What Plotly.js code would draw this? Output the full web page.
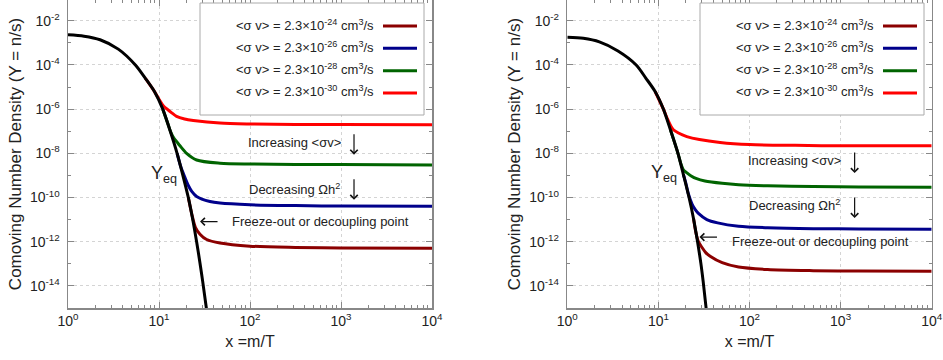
<!DOCTYPE html>
<html>
<head>
<meta charset="utf-8">
<script src="https://cdn.plot.ly/plotly-3.0.1.min.js"></script>
<style>html,body{margin:0;padding:0;background:#fff;}#chart{width:943px;height:360px;}</style>
</head>
<body>
<div id="chart"></div>
<script>
// ---------------- DATA ----------------
// Left panel: equilibrium curve Y_eq
const xEqLeft = [1, 1.5, 2.25, 3.57, 5.5, 7.08, 8.91, 11.0, 13.2, 15.8, 18.2, 21.0, 23.4, 25.9, 28.2, 30.2, 33.4];
const yEqLeft = [2.3e-3, 2.0e-3, 1.38e-3, 5.2e-4, 1.0e-4, 2.5e-5, 6.3e-6, 1.0e-6, 1.1e-7, 1.0e-8, 1.1e-9, 1.0e-10, 1.1e-11, 1.0e-12, 1.1e-13, 1.6e-14, 7.9e-16];
// Left panel: relic curves
const x24Left = [21.0, 22.9, 25.1, 28.2, 33.4, 46.8, 100, 316, 1000, 10000];
const y24Left = [1.0e-10, 1.8e-11, 4.5e-12, 2.2e-12, 1.26e-12, 8.7e-13, 6.3e-13, 5.5e-13, 5.2e-13, 5.1e-13];
const x26Left = [15.8, 17.4, 19.1, 21.0, 22.9, 25.9, 36.3, 46.8, 100, 316, 1000, 10000];
const y26Left = [1.0e-8, 2.4e-9, 8.9e-10, 3.5e-10, 1.9e-10, 1.12e-10, 6.6e-11, 5.6e-11, 4.7e-11, 4.3e-11, 4.1e-11, 4.0e-11];
const x28Left = [11.0, 12.6, 13.5, 14.5, 15.8, 17.0, 20.1, 25.9, 46.8, 100, 316, 1000, 10000];
const y28Left = [1.0e-6, 2.0e-7, 8.9e-8, 5.0e-8, 3.2e-8, 2.2e-8, 1.0e-8, 5.0e-9, 3.6e-9, 3.3e-9, 3.16e-9, 3.1e-9, 3.0e-9];
const x30Left = [7.08, 8.91, 10, 11.2, 12.2, 13.8, 15.6, 19.1, 23.8, 46.8, 100, 316, 1000, 10000];
const y30Left = [2.5e-5, 6.3e-6, 2.8e-6, 1.4e-6, 1.02e-6, 6.8e-7, 4.7e-7, 3.6e-7, 3.1e-7, 2.35e-7, 2.14e-7, 2.04e-7, 2.0e-7, 1.95e-7];

// Right panel: equilibrium curve Y_eq
const xEqRight = [1, 1.5, 2.25, 3.6, 5.7, 7.3, 9.2, 11.35, 13.6, 16.4, 18.8, 21.7, 24.3, 26.9, 29.2, 31.0, 33.6];
const yEqRight = [1.8e-3, 1.6e-3, 1.1e-3, 4.3e-4, 1.0e-4, 2.5e-5, 6.3e-6, 1.0e-6, 1.1e-7, 1.0e-8, 1.1e-9, 1.0e-10, 1.1e-11, 1.0e-12, 1.1e-13, 1.6e-14, 7.9e-16];
// Right panel: relic curves
const x24Right = [24.3, 25.7, 27.5, 30.0, 33.1, 37.0, 50.1, 75.9, 158, 501, 1585, 10000];
const y24Right = [1.12e-11, 2.8e-12, 1.0e-12, 5.6e-13, 3.2e-13, 2.2e-13, 1.12e-13, 7.1e-14, 5.5e-14, 4.9e-14, 4.7e-14, 4.6e-14];
const x26Right = [18.8, 20.0, 21.4, 23.4, 25.4, 27.5, 34.0, 44.7, 75.9, 158, 501, 1585, 10000];
const y26Right = [1.12e-9, 4.5e-10, 1.4e-10, 5.0e-11, 2.8e-11, 1.9e-11, 1.0e-11, 7.1e-12, 5.0e-12, 4.3e-12, 3.9e-12, 3.8e-12, 3.7e-12];
const x28Right = [13.6, 16.4, 17.6, 18.8, 20.4, 22.9, 26.3, 32.4, 50.1, 75.9, 158, 501, 1585, 10000];
const y28Right = [1.12e-7, 1.0e-8, 3.5e-9, 1.8e-9, 1.35e-9, 9.5e-10, 7.1e-10, 5.6e-10, 4.4e-10, 3.8e-10, 3.4e-10, 3.16e-10, 3.0e-10, 2.95e-10];
const x30Right = [9.2, 11.35, 12.6, 13.6, 14.6, 16.6, 20.5, 28.2, 47.6, 100, 316, 1000, 10000];
const y30Right = [6.3e-6, 1.0e-6, 3.5e-7, 1.8e-7, 1.17e-7, 8.3e-8, 5.75e-8, 4.2e-8, 3.1e-8, 2.5e-8, 2.3e-8, 2.2e-8, 2.2e-8];

// Labels
const seriesLabels = [
  '<σ v> = 2.3×10<sup>-24</sup> cm<sup>3</sup>/s',
  '<σ v> = 2.3×10<sup>-26</sup> cm<sup>3</sup>/s',
  '<σ v> = 2.3×10<sup>-28</sup> cm<sup>3</sup>/s',
  '<σ v> = 2.3×10<sup>-30</sup> cm<sup>3</sup>/s'
];
const xTickVals = [1, 10, 100, 1000, 10000];
const xTickText = ['10<sup>0</sup>', '10<sup>1</sup>', '10<sup>2</sup>', '10<sup>3</sup>', '10<sup>4</sup>'];
const yTickVals = [1e-14, 1e-12, 1e-10, 1e-8, 1e-6, 1e-4, 1e-2];
const yTickText = ['10<sup>-14</sup>', '10<sup>-12</sup>', '10<sup>-10</sup>', '10<sup>-8</sup>', '10<sup>-6</sup>', '10<sup>-4</sup>', '10<sup>-2</sup>'];
const yTitle = 'Comoving Number Density (Y = n/s)';
const xTitle = 'x =m/T';

// ---------------- STYLE ----------------
const colors = ['#8b0000', '#00008b', '#006400', '#ff0000'];
const FONT = 'Liberation Sans, Arial, Helvetica, sans-serif';
const W = 943, PH = 308;
const px = v => v / W;
const py = v => (PH - v) / PH;

const xMinor = [];
for (let d = 1; d < 10000; d *= 10) for (let k = 2; k <= 9; k++) xMinor.push(k * d);
const yMinor = [];
for (let e = -15; e <= -1; e += 2) yMinor.push(Math.pow(10, e));

function line(x, y, color, xa, ya) {
  return {x: x, y: y, xaxis: xa, yaxis: ya, type: 'scatter', mode: 'lines',
          line: {color: color, width: 3, shape: 'spline', smoothing: 0.8},
          hoverinfo: 'skip', showlegend: false};
}

const traces = [
  line(x30Left, y30Left, colors[3], 'x', 'y'),
  line(x28Left, y28Left, colors[2], 'x', 'y'),
  line(x26Left, y26Left, colors[1], 'x', 'y'),
  line(x24Left, y24Left, colors[0], 'x', 'y'),
  line(xEqLeft, yEqLeft, '#000000', 'x', 'y'),
  line(x30Right, y30Right, colors[3], 'x2', 'y2'),
  line(x28Right, y28Right, colors[2], 'x2', 'y2'),
  line(x26Right, y26Right, colors[1], 'x2', 'y2'),
  line(x24Right, y24Right, colors[0], 'x2', 'y2'),
  line(xEqRight, yEqRight, '#000000', 'x2', 'y2')
];

function xAxis(domain, anchor) {
  return {type: 'log', range: [0, 4], domain: domain, anchor: anchor,
    tickmode: 'array', tickvals: xTickVals, ticktext: xTickText,
    ticks: 'inside', ticklen: 6, tickwidth: 1, tickcolor: '#888',
    showline: true, linecolor: '#888', linewidth: 1.5, mirror: 'allticks',
    showgrid: true, gridcolor: '#d4d4d4', griddash: 'dot', gridwidth: 1, zeroline: false,
    tickfont: {family: FONT, size: 14, color: '#222'},
    minor: {tickmode: 'array', tickvals: xMinor, ticks: 'inside', ticklen: 3, tickcolor: '#888', showgrid: false},
    title: {text: xTitle, font: {family: FONT, size: 16, color: '#222'}, standoff: 7},
    automargin: false, fixedrange: true};
}
function yAxis(anchor) {
  return {type: 'log', range: [-15, -1.06], domain: [0, 1], anchor: anchor,
    tickmode: 'array', tickvals: yTickVals, ticktext: yTickText,
    ticks: 'inside', ticklen: 6, tickwidth: 1, tickcolor: '#888', ticklabelstandoff: 4,
    showline: true, linecolor: '#888', linewidth: 1.5, mirror: 'allticks',
    showgrid: true, gridcolor: '#d4d4d4', griddash: 'dot', gridwidth: 1, zeroline: false,
    tickfont: {family: FONT, size: 14, color: '#222'},
    minor: {tickmode: 'array', tickvals: yMinor, ticks: 'inside', ticklen: 3, tickcolor: '#888', showgrid: false},
    title: {text: yTitle, font: {family: FONT, size: 17, color: '#222'}, standoff: 4},
    automargin: false, fixedrange: true};
}

const shapes = [];
const annotations = [];
const T = {family: FONT, size: 13, color: '#222'};

function panelDecor(off) {
  shapes.push({type: 'rect', xref: 'paper', yref: 'paper', x0: px(200 + off), x1: px(424 + off), y0: py(115), y1: py(3),
               line: {color: '#aaa', width: 1}, fillcolor: 'rgba(255,255,255,1)', layer: 'above'});
  const rows = [26, 48.3, 70.7, 93];
  for (let i = 0; i < 4; i++) {
    shapes.push({type: 'line', xref: 'paper', yref: 'paper', x0: px(383 + off), x1: px(417 + off), y0: py(rows[i]), y1: py(rows[i]),
                 line: {color: colors[i], width: 3}, layer: 'above'});
    annotations.push({xref: 'paper', yref: 'paper', x: px(376 + off), y: py(rows[i] - 1.5), xanchor: 'right', yanchor: 'middle',
                      text: seriesLabels[i], showarrow: false, font: T});
  }
}
panelDecor(0);
panelDecor(500);

// in-plot labels (log coordinates)
function notes(xa, ya, p) {
  annotations.push({xref: xa, yref: ya, x: p.inc[0], y: p.inc[1], text: 'Increasing <σv>', showarrow: false, font: T, xanchor: 'center', yanchor: 'middle'});
  annotations.push({xref: xa, yref: ya, x: p.dec[0], y: p.dec[1], text: 'Decreasing Ωh<sup>2</sup>', showarrow: false, font: T, xanchor: 'center', yanchor: 'middle'});
  annotations.push({xref: xa, yref: ya, x: p.fr[0], y: p.fr[1], text: 'Freeze-out or decoupling point', showarrow: false, font: T, xanchor: 'left', yanchor: 'middle'});
  annotations.push({xref: xa, yref: ya, x: p.yeq[0], y: p.yeq[1], text: 'Y<sub>eq</sub>', showarrow: false, font: {family: FONT, size: 18, color: '#222'}, xanchor: 'left', yanchor: 'middle'});
  for (const a of p.down) {
    annotations.push({xref: xa, yref: ya, x: a[0], y: a[1], ax: 0, ay: -22, text: '', showarrow: true,
                      arrowhead: 4, arrowsize: 1.2, arrowwidth: 1.2, arrowcolor: '#111', standoff: 0});
  }
  annotations.push({xref: xa, yref: ya, x: p.left[0], y: p.left[1], ax: 19, ay: 0, text: '', showarrow: true,
                    arrowhead: 4, arrowsize: 1.2, arrowwidth: 1.2, arrowcolor: '#111', standoff: 0});
}
notes('x', 'y', {inc: [2.484, -7.52], dec: [2.49, -9.60], fr: [1.78, -11.08], yeq: [0.89, -8.95],
                 down: [[3.143, -8.06], [3.143, -10.10]], left: [1.451, -11.09]});
notes('x2', 'y2', {inc: [2.49, -8.33], dec: [2.49, -10.36], fr: [1.788, -11.99], yeq: [0.90, -8.93],
                   down: [[3.154, -8.89], [3.154, -10.93]], left: [1.451, -11.79]});

const layout = {
  width: 943, height: 360,
  margin: {l: 0, r: 0, t: 0, b: 52, pad: 0},
  paper_bgcolor: '#fff', plot_bgcolor: '#fff',
  showlegend: false,
  font: {family: FONT, size: 13, color: '#222'},
  xaxis: xAxis([68 / W, 432 / W], 'y'),
  yaxis: yAxis('x'),
  xaxis2: xAxis([567.3 / W, 931.7 / W], 'y2'),
  yaxis2: yAxis('x2'),
  shapes: shapes,
  annotations: annotations
};

Plotly.newPlot('chart', traces, layout, {staticPlot: true, displayModeBar: false});
</script>
</body>
</html>
